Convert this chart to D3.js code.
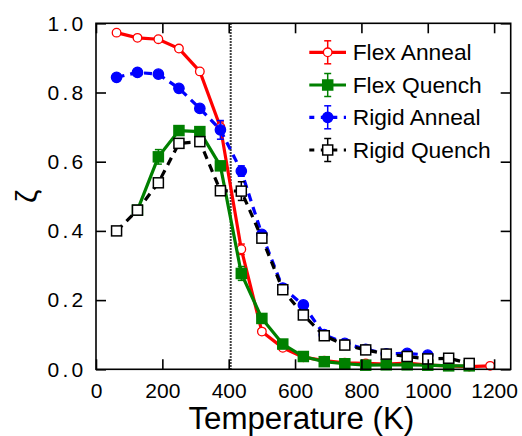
<!DOCTYPE html>
<html>
<head>
<meta charset="utf-8">
<script src="https://cdn.jsdelivr.net/npm/d3@7/dist/d3.min.js"></script>
<style>
  html, body { margin: 0; padding: 0; background: #fff; }
  svg { display: block; }
  text { font-family: "Liberation Sans", Arial, sans-serif; }
</style>
</head>
<body>
<svg id="chart" width="522" height="436"></svg>
<script>
// ---- data ----
const xTicks = [0, 200, 400, 600, 800, 1000, 1200];
const yTicks = [0.0, 0.2, 0.4, 0.6, 0.8, 1.0];
const transitionT = 406;

const flexAnnealT = [62, 125, 188, 250, 313, 375, 438, 500, 563, 625, 688, 750, 813, 875, 938, 1000, 1063, 1125, 1188];
const flexAnnealZ = [0.973, 0.958, 0.954, 0.927, 0.861, 0.70, 0.347, 0.109, 0.062, 0.035, 0.025, 0.019, 0.017, 0.015, 0.018, 0.012, 0.010, 0.008, 0.010];
const flexAnnealE = [0.005, 0.005, 0.005, 0.006, 0.006, 0.015, 0.015, 0.008, 0.005, 0.004, 0.003, 0.003, 0.003, 0.003, 0.003, 0.003, 0.003, 0.003, 0.004];

const flexQuenchT = [125, 188, 250, 313, 375, 438, 500, 563, 625, 688, 750, 813, 875, 938, 1000, 1063, 1125];
const flexQuenchZ = [0.46, 0.614, 0.690, 0.687, 0.588, 0.277, 0.147, 0.073, 0.037, 0.022, 0.016, 0.012, 0.013, 0.013, 0.012, 0.010, 0.010];
const flexQuenchE = [0.008, 0.021, 0.010, 0.010, 0.010, 0.020, 0.010, 0.006, 0.004, 0.003, 0.003, 0.003, 0.003, 0.003, 0.003, 0.003, 0.003];

const rigidAnnealT = [62, 125, 188, 250, 313, 375, 438, 500, 563, 625, 688, 750, 813, 875, 938, 1000];
const rigidAnnealZ = [0.844, 0.858, 0.853, 0.812, 0.754, 0.692, 0.573, 0.390, 0.235, 0.186, 0.100, 0.075, 0.058, 0.045, 0.046, 0.041];
const rigidAnnealE = [0.008, 0.006, 0.006, 0.008, 0.008, 0.027, 0.015, 0.010, 0.008, 0.008, 0.005, 0.005, 0.004, 0.004, 0.004, 0.004];

const rigidQuenchT = [62, 125, 188, 250, 313, 375, 438, 500, 563, 625, 688, 750, 813, 875, 938, 1000, 1063, 1125];
const rigidQuenchZ = [0.400, 0.460, 0.539, 0.653, 0.658, 0.516, 0.515, 0.379, 0.230, 0.157, 0.097, 0.070, 0.056, 0.044, 0.037, 0.030, 0.032, 0.017];
const rigidQuenchE = [0.006, 0.006, 0.010, 0.010, 0.010, 0.012, 0.027, 0.012, 0.008, 0.008, 0.005, 0.005, 0.004, 0.004, 0.004, 0.004, 0.004, 0.004];

const seriesNames = ["Flex Anneal", "Flex Quench", "Rigid Anneal", "Rigid Quench"];

// ---- layout ----
const svg = d3.select("#chart");
const FONT = "'Liberation Sans', Arial, sans-serif";
const L = 96, R = 510.7, T = 23.3, B = 369.3;
const x = d3.scaleLinear().domain([0, 1250]).range([L, R]);
const y = d3.scaleLinear().domain([0, 1]).range([B, T]);

const series = [
  { name: seriesNames[0], t: flexAnnealT, z: flexAnnealZ, e: flexAnnealE, color: "#ff0000", dash: null, marker: "circle", fill: "#ffffff", size: 4.3 },
  { name: seriesNames[1], t: flexQuenchT, z: flexQuenchZ, e: flexQuenchE, color: "#008000", dash: null, marker: "square", fill: "#008000", size: 5 },
  { name: seriesNames[2], t: rigidAnnealT, z: rigidAnnealZ, e: rigidAnnealE, color: "#0000ff", dash: "8,6", marker: "circle", fill: "#0000ff", size: 5.2 },
  { name: seriesNames[3], t: rigidQuenchT, z: rigidQuenchZ, e: rigidQuenchE, color: "#000000", dash: "8,6", marker: "square", fill: "#ffffff", size: 5 }
];

// fit a text element to a target width by adjusting font size
function fitWidth(sel, base, target) {
  sel.style("font-size", base + "px");
  const w = sel.node().getComputedTextLength();
  if (w > 0) sel.style("font-size", (base * target / w) + "px");
}

// dotted transition line
svg.append("line")
  .attr("x1", x(transitionT)).attr("x2", x(transitionT))
  .attr("y1", T).attr("y2", B)
  .attr("stroke", "#000").attr("stroke-width", 2)
  .attr("stroke-dasharray", "1.5,1.5");

const line = d3.line().x(d => x(d[0])).y(d => y(d[1]));

function drawMarker(g, cx, cy, s) {
  if (s.marker === "circle") {
    g.append("circle").attr("cx", cx).attr("cy", cy).attr("r", s.size)
      .attr("fill", s.fill).attr("stroke", s.color).attr("stroke-width", 1.3);
  } else {
    const h = s.size;
    g.append("rect").attr("x", cx - h).attr("y", cy - h).attr("width", 2 * h).attr("height", 2 * h)
      .attr("fill", s.fill).attr("stroke", s.color).attr("stroke-width", 1.5);
  }
}

function drawErr(g, cx, y1, y2, color) {
  g.append("line").attr("x1", cx).attr("x2", cx).attr("y1", y1).attr("y2", y2)
    .attr("stroke", color).attr("stroke-width", 1.5);
  [y1, y2].forEach(yy => g.append("line").attr("x1", cx - 3.5).attr("x2", cx + 3.5)
    .attr("y1", yy).attr("y2", yy).attr("stroke", color).attr("stroke-width", 1.5));
}

series.forEach(s => {
  const g = svg.append("g");
  const pts = s.t.map((t, i) => [t, s.z[i]]);
  g.append("path").datum(pts).attr("d", line)
    .attr("fill", "none").attr("stroke", s.color).attr("stroke-width", 3.2)
    .attr("stroke-dasharray", s.dash);
  pts.forEach((p, i) => {
    drawErr(g, x(p[0]), y(p[1] + s.e[i]), y(p[1] - s.e[i]), s.color);
  });
  pts.forEach(p => drawMarker(g, x(p[0]), y(p[1]), s));
});

// ---- axes ----
const tickLen = 10;
svg.append("rect").attr("x", L).attr("y", T).attr("width", R - L).attr("height", B - T)
  .attr("fill", "none").attr("stroke", "#000").attr("stroke-width", 1.6);

const xAxisB = d3.axisBottom(x).tickValues(xTicks).tickSize(-tickLen).tickPadding(13.5).tickFormat(d3.format("d"));
const xAxisT = d3.axisTop(x).tickValues(xTicks).tickSize(-tickLen).tickFormat("");
const yAxisL = d3.axisLeft(y).tickValues(yTicks).tickSize(-tickLen).tickPadding(9.5).tickFormat(d3.format(".1f"));
const yAxisR = d3.axisRight(y).tickValues(yTicks).tickSize(-tickLen).tickFormat("");

function styleAxis(sel) {
  sel.select(".domain").remove();
  sel.selectAll(".tick line").attr("stroke", "#000").attr("stroke-width", 1.6);
  sel.selectAll(".tick text").attr("fill", "#000").style("font-size", "21px")
    .style("font-family", FONT);
}
svg.append("g").attr("transform", `translate(0,${B})`).call(xAxisB).call(styleAxis);
svg.append("g").attr("transform", `translate(0,${T})`).call(xAxisT).call(styleAxis);
svg.append("g").attr("transform", `translate(${L},0)`).call(yAxisL).call(styleAxis)
  .selectAll(".tick text").style("letter-spacing", "3.3px");
svg.append("g").attr("transform", `translate(${R},0)`).call(yAxisR).call(styleAxis);

// axis titles
const xTitle = svg.append("text").attr("x", (L + R) / 2 - 2).attr("y", 429)
  .attr("text-anchor", "middle").style("font-family", FONT).text("Temperature (K)");
fitWidth(xTitle, 29, 226);
svg.append("text").attr("transform", `translate(37,${(T + B) / 2}) rotate(-90)`)
  .attr("text-anchor", "middle").style("font-family", FONT).style("font-size", "30px").text("ζ");

// ---- legend ----
const legRows = [52.3, 85, 117.3, 150];
let legSize = null;
series.forEach((s, i) => {
  const g = svg.append("g");
  const cy = legRows[i];
  g.append("line").attr("x1", 309.3).attr("x2", 346).attr("y1", cy).attr("y2", cy)
    .attr("stroke", s.color).attr("stroke-width", 3.2)
    .attr("stroke-dasharray", s.dash ? "5,6.5" : null);
  drawErr(g, 327.7, cy - 11.5, cy + 11.5, s.color);
  drawMarker(g, 327.7, cy, s);
  const txt = g.append("text").attr("x", 352.7).attr("y", cy + 8)
    .style("font-family", FONT).attr("fill", "#000").text(s.name);
  if (legSize === null) {
    fitWidth(txt, 22, 119);
    legSize = txt.style("font-size");
  } else {
    txt.style("font-size", legSize);
  }
});
</script>
</body>
</html>
